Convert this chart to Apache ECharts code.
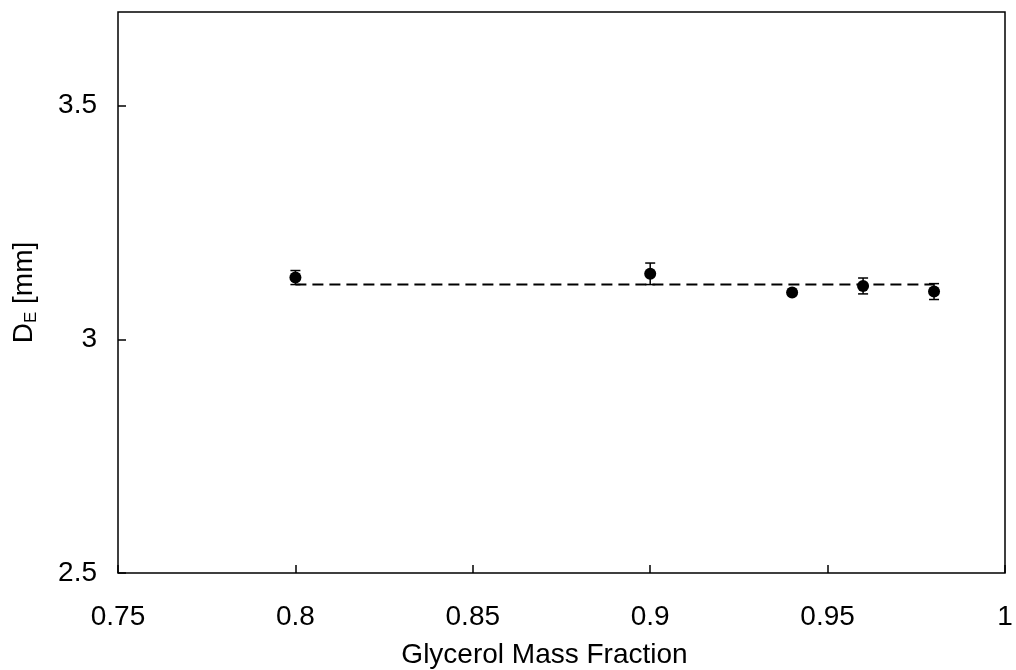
<!DOCTYPE html>
<html>
<head>
<meta charset="utf-8">
<script src="https://cdn.jsdelivr.net/npm/echarts@6/dist/echarts.min.js"></script>
<style>
html, body { margin: 0; padding: 0; background: #fff; }
#chart { width: 1016px; height: 670px; }
</style>
</head>
<body>
<div id="chart"></div>
<script>
// glycerol mass fraction vs drop diameter
var fraction = [0.8, 0.9, 0.94, 0.96, 0.98];
var diameter = [3.132, 3.140, 3.100, 3.114, 3.102];
var errBar = [0.015, 0.023, 0.004, 0.017, 0.017];
var meanX = [0.8, 0.98];
var meanY = [3.117, 3.117];

var points = [];
var bars = [];
for (var i = 0; i < fraction.length; i++) {
    points.push([fraction[i], diameter[i]]);
    bars.push([fraction[i], diameter[i] - errBar[i], diameter[i] + errBar[i]]);
}
var fitLine = [[meanX[0], meanY[0]], [meanX[1], meanY[1]]];

var chart = echarts.init(document.getElementById('chart'));

function errorItem(params, api) {
    var x = api.value(0);
    var lo = api.coord([x, api.value(1)]);
    var hi = api.coord([x, api.value(2)]);
    var w = 5;
    var st = { stroke: '#000', lineWidth: 1.5 };
    return {
        type: 'group',
        children: [
            { type: 'line', shape: { x1: lo[0], y1: lo[1], x2: hi[0], y2: hi[1] }, style: st },
            { type: 'line', shape: { x1: lo[0] - w, y1: lo[1], x2: lo[0] + w, y2: lo[1] }, style: st },
            { type: 'line', shape: { x1: hi[0] - w, y1: hi[1], x2: hi[0] + w, y2: hi[1] }, style: st }
        ]
    };
}

var font = 'Liberation Sans, Arial, sans-serif';

var option = {
    animation: false,
    backgroundColor: '#fff',
    grid: { left: 118, right: 11, top: 12, bottom: 97, containLabel: false, outerBoundsMode: 'none' },
    xAxis: {
        type: 'value',
        min: 0.75,
        max: 1,
        interval: 0.05,
        name: 'Glycerol Mass Fraction',
        nameLocation: 'middle',
        nameGap: 68,
        nameTextStyle: { color: '#000', fontSize: 28, fontFamily: font, padding: [0, 34, 0, 0] },
        axisLine: { show: false },
        axisTick: { show: true, inside: true, length: 8, lineStyle: { color: '#000', width: 1.5 } },
        axisLabel: {
            color: '#000', fontSize: 28, fontFamily: font, margin: 30,
            formatter: function (v) { return String(+v.toFixed(2)); }
        },
        splitLine: { show: false }
    },
    yAxis: {
        type: 'value',
        min: 2.5,
        max: 3.7,
        interval: 0.5,
        name: '{m|D}{s|E}{m| [mm]}',
        nameLocation: 'middle',
        nameGap: 78,
        nameRotate: 90,
        nameTextStyle: {
            rich: {
                m: { color: '#000', fontSize: 28, fontFamily: font },
                s: { color: '#000', fontSize: 17, fontFamily: font, verticalAlign: 'bottom', padding: [14, 0, 0, 0] }
            }
        },
        axisLine: { show: false },
        axisTick: { show: true, inside: true, length: 8, lineStyle: { color: '#000', width: 1.5 } },
        axisLabel: {
            color: '#000', fontSize: 28, fontFamily: font, margin: 21,
            showMaxLabel: false,
            formatter: function (v) { return String(+v.toFixed(1)); }
        },
        splitLine: { show: false }
    },
    series: [
        {
            type: 'line',
            data: fitLine,
            symbol: 'none',
            lineStyle: { color: '#000', width: 2, type: [11, 6] },
            z: 1
        },
        {
            type: 'custom',
            data: bars,
            renderItem: errorItem,
            z: 2
        },
        {
            type: 'scatter',
            data: points,
            symbol: 'circle',
            symbolSize: 12,
            itemStyle: { color: '#000', opacity: 1 },
            z: 3
        }
    ],
    graphic: [{
        type: 'rect',
        shape: { x: 118, y: 12, width: 887, height: 561 },
        style: { fill: 'none', stroke: '#000', lineWidth: 1.5 },
        silent: true
    }]
};

chart.setOption(option);
</script>
</body>
</html>
